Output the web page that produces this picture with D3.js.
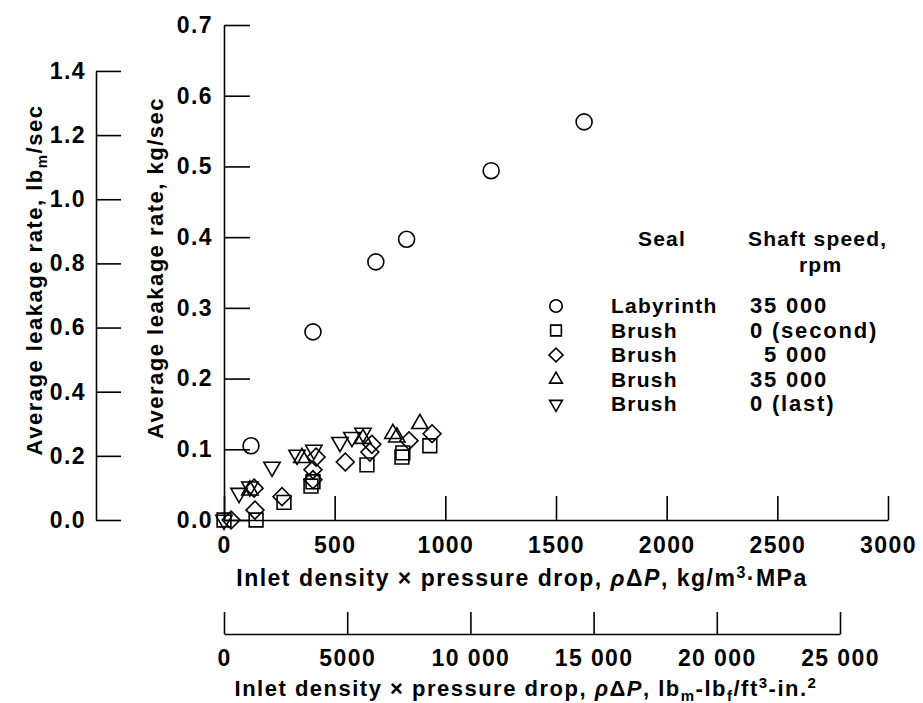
<!DOCTYPE html>
<html>
<head>
<meta charset="utf-8">
<script src="https://cdn.jsdelivr.net/npm/d3@7"></script>
<style>
  body { margin: 0; background: #fff; }
  svg text {
    font-family: "Liberation Sans", Arial, Helvetica, sans-serif;
    font-weight: bold;
    font-size: 22px;
    fill: #000;
    letter-spacing: 1.5px;
  }
  svg .axis text { font-size: 23px; letter-spacing: 1.4px; }
  svg .legend text { font-size: 21px; letter-spacing: 1.2px; }
  svg .legend text.speed { font-size: 22px; letter-spacing: 1.8px; }
  .axis path, .axis line { stroke: #000; stroke-width: 1.6px; fill: none; }
  .mark { fill: none; stroke: #000; stroke-width: 1.6px; }
</style>
</head>
<body>
<svg id="chart" width="923" height="703"></svg>
<script>
// Legend rows: seal type and shaft speed
const seals  = ["Labyrinth", "Brush", "Brush", "Brush", "Brush"];
const speeds = ["35 000", "0 (second)", "\u20075 000", "35 000", "0 (last)"];
const shapes = ["circle", "square", "diamond", "triUp", "triDown"];

// Inlet density x pressure drop (kg/m3·MPa) and average leakage rate (kg/sec)
const labyrinthX = [122, 402, 686, 825, 1207, 1627];
const labyrinthY = [0.105, 0.266, 0.365, 0.397, 0.494, 0.563];

const brushSecondX = [0, 145, 271, 393, 402, 646, 804, 808, 930];
const brushSecondY = [0.0, 0.0, 0.025, 0.048, 0.054, 0.078, 0.089, 0.095, 0.105];

const brush5000X = [32, 140, 136, 262, 402, 402, 416, 548, 659, 668, 836, 940];
const brush5000Y = [0.0, 0.014, 0.045, 0.033, 0.057, 0.071, 0.089, 0.082, 0.096, 0.107, 0.112, 0.122];

const brush35000X = [117, 352, 628, 763, 781, 885];
const brush35000Y = [0.042, 0.088, 0.115, 0.122, 0.117, 0.136];

const brushLastX = [0, 68, 117, 217, 330, 406, 524, 578, 628];
const brushLastY = [0.0, 0.038, 0.047, 0.075, 0.092, 0.099, 0.110, 0.117, 0.123];

// Axis ticks
const xTicks = [0, 500, 1000, 1500, 2000, 2500, 3000];
const yTicks = [0, 0.1, 0.2, 0.3, 0.4, 0.5, 0.6, 0.7];
const lbmTicks = [0, 0.2, 0.4, 0.6, 0.8, 1.0, 1.2, 1.4];
const usTicks = [0, 5000, 10000, 15000, 20000, 25000];
const usTickLabels = ["0", "5000", "10 000", "15 000", "20 000", "25 000"];

const KG_TO_LBM = 2.20462;

const svg = d3.select("#chart");

const x = d3.scaleLinear().domain([0, 3000]).range([224, 888]);
const y = d3.scaleLinear().domain([0, 0.7]).range([520, 25]);
const yLbm = d3.scaleLinear().domain([0, 1.4]).range([y(0), y(1.4 / KG_TO_LBM)]);
const xUs = d3.scaleLinear().domain([0, 25000]).range([224, 840]);

// Main leakage axis (kg/sec)
svg.append("g").attr("class", "axis")
  .attr("transform", `translate(${x(0)},0)`)
  .call(d3.axisLeft(y).tickValues(yTicks).tickFormat(d3.format(".1f"))
    .tickSizeInner(-26).tickSizeOuter(0).tickPadding(11));

// Secondary leakage axis (lbm/sec)
svg.append("g").attr("class", "axis")
  .attr("transform", "translate(96,0)")
  .call(d3.axisLeft(yLbm).tickValues(lbmTicks).tickFormat(d3.format(".1f"))
    .tickSizeInner(-25).tickSizeOuter(0).tickPadding(10));

// Main flow-parameter axis
svg.append("g").attr("class", "axis")
  .attr("transform", `translate(0,${y(0)})`)
  .call(d3.axisBottom(x).tickValues(xTicks).tickFormat(d3.format("d"))
    .tickSizeInner(-24).tickSizeOuter(0).tickPadding(17));

// English-unit flow-parameter axis
svg.append("g").attr("class", "axis")
  .attr("transform", "translate(0,634)")
  .call(d3.axisBottom(xUs).tickValues(usTicks).tickFormat((d, i) => usTickLabels[i])
    .tickSizeInner(-22).tickSizeOuter(0).tickPadding(16));

svg.selectAll(".axis").attr("font-size", null).attr("font-family", null);

// Axis titles
function flowTitle(sel) {
  sel.append("tspan").text("Inlet density \u00d7 pressure drop, ");
  sel.append("tspan").attr("font-style", "italic").text("\u03c1");
  sel.append("tspan").text("\u0394");
  sel.append("tspan").attr("font-style", "italic").text("P");
  sel.append("tspan").text(", ");
}

const xt = svg.append("text").attr("x", 522).attr("y", 586)
  .attr("text-anchor", "middle").style("font-size", "23px");
flowTitle(xt);
xt.append("tspan").text("kg/m");
xt.append("tspan").attr("dy", -8).style("font-size", "16px").text("3");
xt.append("tspan").attr("dy", 8).text("\u00b7MPa");

const ut = svg.append("text").attr("x", 526).attr("y", 696).attr("text-anchor", "middle");
flowTitle(ut);
ut.append("tspan").text("lb");
ut.append("tspan").attr("dy", 5).style("font-size", "15px").text("m");
ut.append("tspan").attr("dy", -5).text("-lb");
ut.append("tspan").attr("dy", 5).style("font-size", "15px").text("f");
ut.append("tspan").attr("dy", -5).text("/ft");
ut.append("tspan").attr("dy", -8).style("font-size", "15px").text("3");
ut.append("tspan").attr("dy", 8).text("-in.");
ut.append("tspan").attr("dy", -8).style("font-size", "15px").text("2");

svg.append("text").attr("transform", "translate(163,268) rotate(-90)")
  .attr("text-anchor", "middle").text("Average leakage rate, kg/sec");

const lt = svg.append("text").attr("transform", "translate(42,280) rotate(-90)")
  .attr("text-anchor", "middle");
lt.append("tspan").text("Average leakage rate, lb");
lt.append("tspan").attr("dy", 5).style("font-size", "15px").text("m");
lt.append("tspan").attr("dy", -5).text("/sec");

// Marker shapes
function markerPath(shape, scale) {
  const s = scale || 1;
  switch (shape) {
    case "circle":  return d3.symbol(d3.symbolCircle, 200 * s * s)();
    case "square":  return d3.symbol(d3.symbolSquare, 190 * s * s)();
    case "diamond": return d3.symbol(d3.symbolSquare, 160 * s * s)();
    default:        return d3.symbol(d3.symbolTriangle, 115 * s * s)();
  }
}
function markerRotate(shape) {
  if (shape === "diamond") return 45;
  if (shape === "triDown") return 180;
  return 0;
}

const series = [
  { shape: "circle",  xs: labyrinthX,   ys: labyrinthY },
  { shape: "square",  xs: brushSecondX, ys: brushSecondY },
  { shape: "diamond", xs: brush5000X,   ys: brush5000Y },
  { shape: "triUp",   xs: brush35000X,  ys: brush35000Y },
  { shape: "triDown", xs: brushLastX,   ys: brushLastY }
];

series.forEach(s => {
  const pts = s.xs.map((v, i) => [v, s.ys[i]]);
  svg.append("g").selectAll("path").data(pts).join("path")
    .attr("class", "mark")
    .attr("d", markerPath(s.shape))
    .attr("transform", d => `translate(${x(d[0])},${y(d[1])}) rotate(${markerRotate(s.shape)})`);
});

// Legend
const lg = svg.append("g").attr("class", "legend");
lg.append("text").attr("x", 638).attr("y", 246).text("Seal");
lg.append("text").attr("x", 748).attr("y", 246).text("Shaft speed,");
lg.append("text").attr("x", 799).attr("y", 272).text("rpm");

const rowY = d3.scaleLinear().domain([0, 4]).range([313, 411]);
seals.forEach((seal, i) => {
  const by = rowY(i);
  lg.append("path").attr("class", "mark").attr("stroke-width", 1.3)
    .attr("d", markerPath(shapes[i], 0.78))
    .attr("transform", `translate(556,${by - 7}) rotate(${markerRotate(shapes[i])})`);
  lg.append("text").attr("x", 611).attr("y", by).text(seal);
  lg.append("text").attr("class", "speed").attr("x", 750).attr("y", by).text(speeds[i]);
});
</script>
</body>
</html>
